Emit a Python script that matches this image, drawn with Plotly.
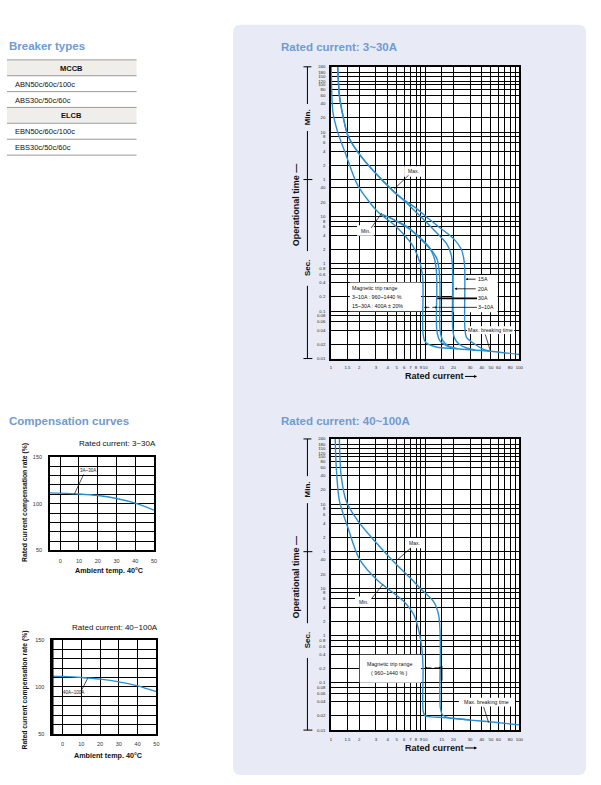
import math
import plotly.graph_objects as go

W, H = 601, 785
def fx(p): return p / W
def fy(p): return 1 - p / H

FONT = "Liberation Sans, Arial, sans-serif"
TITLE_BLUE = "#6E9BD2"
CURVE = "#2A8FD0"
PANEL = "#E8EBF6"

# ---------------- data ----------------
TABLE_ROWS = ["MCCB", "ABN50c/60c/100c", "ABS30c/50c/60c", "ELCB", "EBN50c/60c/100c", "EBS30c/50c/60c"]
TABLE_HEADER = [True, False, False, True, False, False]

COMP_TEMP = [-5.5, 0, 10, 20, 30, 40, 50]
COMP_3_30 = [111.5, 111.2, 110.3, 108.7, 105.5, 100.5, 93.1]
COMP_40_100 = [111.4, 111.1, 110.0, 108.2, 105.4, 101.2, 94.9]
COMP_X_TICKS = [0, 10, 20, 30, 40, 50]
COMP_Y_TICKS = [50, 60, 70, 80, 90, 100, 110, 120, 130, 140, 150]
COMP_Y_LABELS = ["50", "", "", "", "", "100", "", "", "", "", "150"]

X_TICKS = [1, 1.5, 2, 3, 4, 5, 6, 7, 8, 9, 10, 15, 20, 30, 40, 50, 60, 70, 80, 90, 100]
X_LABELS = ["1", "1.5", "2", "3", "4", "5", "6", "7", "8", "9", "10", "15", "20", "30", "40", "50", "60", "", "80", "", "100"]
Y_MINUTES = [240, 180, 150, 120, 100, 80, 60, 40, 20, 10, 8, 6, 4, 2, 1]
Y_SECONDS = [40, 20, 10, 8, 6, 4, 2, 1, 0.8, 0.6, 0.4, 0.2, 0.1, 0.08, 0.06, 0.04, 0.02, 0.01]

# 3~30A trip curves (multiple of rated current, seconds)
T1_MIN_I = [1.007, 1.05, 1.18, 1.45, 1.92, 3.12, 4.68, 5.97, 7.3, 8.2, 8.9, 9.4, 9.5, 9.5, 10.1, 13.4, 20, 30, 48.7, 100]
T1_MIN_T = [14400, 1585, 603, 196, 46, 12.7, 6.7, 4.1, 2.5, 1.57, 0.97, 0.55, 0.25, 0.033, 0.022, 0.0173, 0.0163, 0.0153, 0.0143, 0.0122]
T1_MAX_I = [1.18, 1.23, 1.34, 1.51, 1.92, 2.88, 4.68, 5.5]
T1_MAX_T = [14400, 3550, 1350, 515, 230, 87.5, 33, 25]
T1_15A_I = [8, 10.5, 14, 20, 24, 25.6, 26.3, 26.4, 26.4, 27.5, 32.6, 40, 48.7]
T1_15A_T = [15, 9.5, 6.0, 3.4, 2.1, 1.35, 0.85, 0.4, 0.045, 0.028, 0.021, 0.0163, 0.0143]
T1_20A_I = [7.5, 10, 13.4, 17, 18.9, 19.5, 19.6, 19.6, 20.5, 23, 28, 34]
T1_20A_T = [14, 8, 4.4, 2.6, 1.55, 0.9, 0.45, 0.045, 0.027, 0.02, 0.0165, 0.0152]
T1_30A_I = [3.5, 6.5, 9.0, 11.4, 12.6, 13.2, 13.3, 13.3, 14.3, 17, 20]
T1_30A_T = [11, 6.0, 3.3, 2.0, 1.25, 0.65, 0.3, 0.04, 0.024, 0.0185, 0.0165]
T1_3_10A_I = [4.2, 7.0, 9.7, 11.8, 13.4, 14.1, 14.4, 14.4, 15.4, 18, 22]
T1_3_10A_T = [9.5, 5.2, 3.0, 1.9, 1.25, 0.7, 0.3, 0.04, 0.024, 0.018, 0.0162]

# 40~100A trip curves
T2_MIN_I = [1.11, 1.14, 1.23, 1.51, 2.0, 3.2, 4.0, 5.97, 7.6, 8.6, 9.3, 9.5, 9.5, 9.9, 11.5, 15.7, 20, 30, 48.7, 100]
T2_MIN_T = [14400, 3550, 707, 195, 42, 14, 9.9, 5.2, 2.73, 1.22, 0.46, 0.2, 0.026, 0.0205, 0.019, 0.0185, 0.0177, 0.0163, 0.015, 0.0129]
T2_MAX_I = [1.23, 1.28, 1.45, 1.92, 2.88, 4.5, 7.0, 8.9, 12.3, 13.9, 14.4, 14.5, 14.5, 15.3, 17.5, 22, 30]
T2_MAX_T = [14400, 2570, 707, 269, 102, 38.8, 16.2, 9.9, 5.2, 2.73, 1.22, 0.5, 0.03, 0.021, 0.0183, 0.0174, 0.0164]

# ---------------- figure ----------------
fig = go.Figure()
shapes = []
annos = []

def rect(x0, y0, x1, y1, fill, layer="below", lw=0, lc="black"):
    shapes.append(dict(type="rect", xref="paper", yref="paper", x0=fx(x0), x1=fx(x1), y0=fy(y1), y1=fy(y0),
                       fillcolor=fill, line=dict(width=lw, color=lc), layer=layer))

def line(x0, y0, x1, y1, w=0.8, c="black"):
    shapes.append(dict(type="line", xref="paper", yref="paper", x0=fx(x0), x1=fx(x1), y0=fy(y0), y1=fy(y1),
                       line=dict(width=w, color=c), layer="above"))

def text(x, y, s, size=7, color="#111", xanchor="center", bold=False, angle=0, font=FONT):
    annos.append(dict(xref="paper", yref="paper", x=fx(x), y=fy(y), text=("<b>%s</b>" % s) if bold else s,
                      showarrow=False, xanchor=xanchor, yanchor="middle", textangle=angle, borderpad=0,
                      borderwidth=0, font=dict(size=size, color=color, family=font)))

def arrow(hx, hy, tx, ty, w=0.8, size=0.7, head=2):
    annos.append(dict(xref="paper", yref="paper", x=fx(hx), y=fy(hy), ax=tx - hx, ay=ty - hy,
                      axref="pixel", ayref="pixel", text="", showarrow=True, arrowhead=head,
                      arrowsize=size, arrowwidth=w, arrowcolor="black", standoff=0, startstandoff=0))

# panel with rounded corners
x0, y0, x1, y1, r = 234, 22, 590, 778, 8
path = ("M {a},{b} L {c},{b} Q {x1},{b} {x1},{d} L {x1},{e} Q {x1},{y1} {c},{y1} L {a},{y1} "
        "Q {x0},{y1} {x0},{e} L {x0},{d} Q {x0},{b} {a},{b} Z").format(
    a=fx(x0 + r), b=fy(y0), c=fx(x1 - r), d=fy(y0 + r), e=fy(y1 - r), x0=fx(x0), x1=fx(x1), y1=fy(y1))
shapes.append(dict(type="path", xref="paper", yref="paper", path=path, fillcolor=PANEL, line=dict(width=0), layer="below"))

# titles
text(8, 43, "Breaker types", 11.5, TITLE_BLUE, "left", bold=True)
text(8, 421, "Compensation curves", 11.5, TITLE_BLUE, "left", bold=True)
text(282, 44, "Rated current: 3~30A", 11.5, TITLE_BLUE, "left", bold=True)
text(282, 421, "Rated current: 40~100A", 11.5, TITLE_BLUE, "left", bold=True)

# table
row_edges = [57.3, 73.3, 89.3, 105.2, 121.2, 137.3, 153.3]
for i, label in enumerate(TABLE_ROWS):
    top, bot = row_edges[i], row_edges[i + 1]
    if TABLE_HEADER[i]:
        rect(6, top, 136.7, bot, "#EFEEEA")
        text(71.5, (top + bot) / 2 + 0.5, label, 7.5, "#111", "center", bold=True)
    else:
        text(14.5, (top + bot) / 2 + 0.5, label, 7.5, "#111", "left")
for i, yv in enumerate(row_edges):
    line(6, yv, 136.7, yv, 1.0, "#9A9A9A")

# white backgrounds for trip charts (panel is drawn above plot bg)
rect(332.7, 64.3, 522.7, 358.3, "white")
rect(332.7, 439.3, 522.7, 732.7, "white")

# ---- axes ----
common_grid = dict(showgrid=True, gridcolor="black", gridwidth=1.2, showline=True, mirror=True,
                   linecolor="black", linewidth=1.5, ticks="", zeroline=False, fixedrange=True, tickangle=0)
comp_font = dict(size=5.5, color="#333", family=FONT)
trip_font = dict(size=4.3, color="#222", family=FONT)

layout_axes = {}
layout_axes["xaxis"] = dict(domain=[fx(49.3), fx(154.3)], range=[-5.5, 50], tickvals=COMP_X_TICKS,
                            tickfont=comp_font, anchor="y", ticklabelstandoff=4, **common_grid)
layout_axes["yaxis"] = dict(domain=[fy(551.7), fy(457.3)], range=[50, 150], tickvals=COMP_Y_TICKS,
                            ticktext=COMP_Y_LABELS, tickfont=comp_font, anchor="x", ticklabelstandoff=5, **common_grid)
layout_axes["xaxis2"] = dict(domain=[fx(51.7), fx(156.7)], range=[-5.5, 50], tickvals=COMP_X_TICKS,
                             tickfont=comp_font, anchor="y2", ticklabelstandoff=4, **common_grid)
layout_axes["yaxis2"] = dict(domain=[fy(736.7), fy(641.7)], range=[50, 150], tickvals=COMP_Y_TICKS,
                             ticktext=COMP_Y_LABELS, tickfont=comp_font, anchor="x2", ticklabelstandoff=5, **common_grid)

y_vals = [m * 60 for m in Y_MINUTES] + Y_SECONDS
y_text = [str(m) for m in Y_MINUTES] + [("%g" % s) for s in Y_SECONDS]
ytop = math.log10(240 * 60)
TRIP_BOUNDS = {3: (64.3, 358.3), 4: (439.3, 732.7)}
XL, XR = 332.7, 522.7
for k, (top, bot) in TRIP_BOUNDS.items():
    layout_axes["xaxis%d" % k] = dict(type="log", range=[0, 2], domain=[fx(XL), fx(XR)], tickvals=X_TICKS,
                                      ticktext=X_LABELS, tickfont=trip_font, anchor="y%d" % k,
                                      ticklabelstandoff=4, **common_grid)
    layout_axes["yaxis%d" % k] = dict(type="log", range=[-2, ytop], domain=[fy(bot), fy(top)], tickvals=y_vals,
                                      ticktext=y_text, tickfont=trip_font, anchor="x%d" % k,
                                      ticklabelstandoff=3, **common_grid)

# ---- label boxes (white fills between grid and curves) ----
def box(px0, py0, px1, py1, k):
    top, bot = TRIP_BOUNDS[k]
    def dx(p): return 10 ** ((p - XL) / (XR - XL) * 2)
    def dy(p): return 10 ** (-2 + (bot - p) / (bot - top) * (ytop + 2))
    fig.add_trace(go.Scatter(x=[dx(px0), dx(px1), dx(px1), dx(px0), dx(px0)],
                             y=[dy(py0), dy(py0), dy(py1), dy(py1), dy(py0)],
                             mode="lines", fill="toself", fillcolor="white", line=dict(width=0),
                             xaxis="x%d" % k, yaxis="y%d" % k, hoverinfo="skip", showlegend=False))

box(406.5, 164.5, 424, 175, 3)
box(359, 224, 376, 234.5, 3)
box(351.7, 281.7, 423.5, 310.5, 3)
box(456.2, 274, 500.7, 311.7, 3)
box(470, 325.8, 517.5, 333.6, 3)
box(408, 539, 425, 549.5, 4)
box(357, 598, 374, 608.5, 4)
box(361.7, 656.7, 423.5, 685, 4)
box(461.7, 700, 518.3, 709, 4)

# ---- traces ----
def curve(xs, ys, xa, ya, width=1.4, smooth=0.8):
    fig.add_trace(go.Scatter(x=xs, y=ys, mode="lines", xaxis=xa, yaxis=ya, hoverinfo="skip", showlegend=False,
                             line=dict(color=CURVE, width=width, shape="spline", smoothing=smooth)))

curve(COMP_TEMP, COMP_3_30, "x", "y", 1.3)
curve(COMP_TEMP, COMP_40_100, "x2", "y2", 1.3)

curve(T1_MIN_I, T1_MIN_T, "x3", "y3")
curve(T1_MAX_I + T1_15A_I, T1_MAX_T + T1_15A_T, "x3", "y3")
curve(T1_MAX_I + T1_20A_I, T1_MAX_T + T1_20A_T, "x3", "y3")
curve(T1_30A_I, T1_30A_T, "x3", "y3")
curve(T1_3_10A_I, T1_3_10A_T, "x3", "y3")

curve(T2_MIN_I, T2_MIN_T, "x4", "y4")
curve(T2_MAX_I, T2_MAX_T, "x4", "y4")

# ---- compensation chart texts ----
text(156, 444, "Rated current: 3~30A", 8, "#111", "right")
text(158, 629, "Rated current: 40~100A", 8, "#111", "right")
text(24, 503, "Rated current compensation rate (%)", 6.8, "#111", bold=True, angle=-90)
text(24, 692, "Rated current compensation rate (%)", 6.8, "#111", bold=True, angle=-90)
text(109, 572, "Ambient temp. 40°C", 7.2, "#111", bold=True)
text(108, 758, "Ambient temp. 40°C", 7.2, "#111", bold=True)
text(80, 471, "3A~30A", 4.5, "#222", "left")
line(83.3, 475, 74, 495, 0.7)
text(63, 694.5, "40A~100A", 4.5, "#222", "left")
line(81.7, 691.7, 87.3, 680.7, 0.7)
line(51.7, 641.7, 51.7, 736.7, 2.5)

# ---- trip chart decorations ----
def trip_deco(T, B):
    line(305, T, 313, T, 1.0)
    line(309, T, 309, T + 37.5, 1.0)
    text(309, T + 50.5, "Min.", 8, "#111", bold=True, angle=-90)
    line(309, T + 64.7, 309, T + 113.6, 1.0)
    line(305, T + 113.6, 314, T + 113.6, 1.0)
    line(309, T + 113.6, 309, T + 185.7, 1.0)
    text(309, T + 202.4, "Sec.", 8, "#111", bold=True, angle=-90)
    line(309, T + 220.7, 309, B, 1.0)
    line(305, B, 314, B, 1.0)
    text(297.5, T + 139.5, "Operational time —", 9, "#111", bold=True, angle=-90)
    text(437.5, B + 17.7, "Rated current", 9, "#111", bold=True)
    arrow(480, B + 18, 466.5, B + 18, 1.0, 0.6)

# chart 1
trip_deco(64.3, 358.3)
text(415.5, 169.7, "Max.", 5, "#111")
line(411, 173.5, 396.5, 187.5, 0.7)
text(367.5, 229.3, "Min.", 5, "#111")
line(373.3, 226.7, 384, 211.7, 0.7)
text(354, 287.6, "Magnetic trip range", 5.3, "#111", "left")
text(354, 296.4, "3~10A : 960~1440 %", 5.3, "#111", "left")
text(354, 305.2, "15~30A : 400A ± 20%", 5.3, "#111", "left")
text(481, 278.3, "15A", 5.3, "#111", "left")
text(481, 288, "20A", 5.3, "#111", "left")
text(481, 297.7, "30A", 5.3, "#111", "left")
text(481, 306.7, "3~10A", 5.3, "#111", "left")
arrow(468.5, 278.3, 480, 278.3, 0.8, 0.6)
arrow(457.3, 288, 480, 288, 0.8, 0.6)
line(440, 297.7, 480, 297.7, 1.6)
line(441, 306.7, 480, 306.7, 0.8)
arrow(426.5, 306.7, 433.5, 306.7, 0.8, 0.6)
arrow(440.5, 306.7, 433.5, 306.7, 0.8, 0.6)
text(493.7, 329.7, "Max. breaking time", 5.3, "#111")
line(488.3, 334, 493.3, 350, 0.7)

# chart 2
trip_deco(439.3, 732.7)
text(416.7, 544.2, "Max.", 5, "#111")
line(413.5, 549, 398.3, 562.3, 0.7)
text(365.5, 603.3, "Min.", 5, "#111")
line(373.3, 600.7, 385, 586, 0.7)
text(391.7, 666, "Magnetic trip range", 5.3, "#111")
text(391.7, 675, "( 960~1440 % )", 5.3, "#111")
arrow(427, 670, 435.5, 670, 0.8, 0.6)
arrow(444, 670, 435.5, 670, 0.8, 0.6)
line(444.3, 668, 444.3, 683, 1.6)
text(490, 704.5, "Max. breaking time", 5.3, "#111")
line(486.7, 709.5, 491.7, 725, 0.7)

fig.update_layout(width=W, height=H, margin=dict(l=0, r=0, t=0, b=0), paper_bgcolor="white",
                  plot_bgcolor="white", showlegend=False, shapes=shapes, annotations=annos,
                  font=dict(family=FONT), **layout_axes)
fig.write_html("out.html", config={"displayModeBar": False},
               post_script="document.body.style.margin='0px';document.body.style.padding='0px';")
